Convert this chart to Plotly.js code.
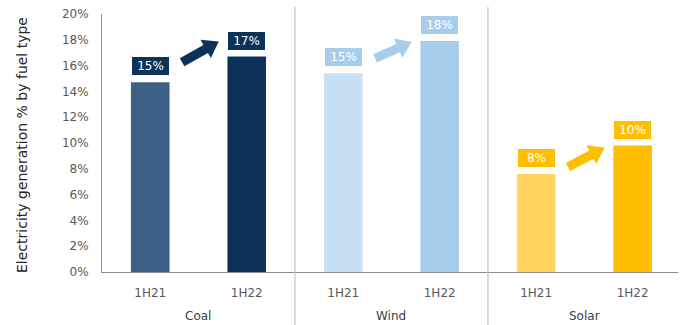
<!DOCTYPE html>
<html>
<head>
<meta charset="utf-8">
<script src="https://cdn.plot.ly/plotly-3.0.1.min.js"></script>
<style>
  html, body { margin: 0; padding: 0; background: #fff; }
  #chart { width: 685px; height: 325px; }
</style>
</head>
<body>
<div id="chart"></div>
<script>
// Electricity generation share by fuel type, first half of 2021 vs 2022
const fuels = ['Coal', 'Wind', 'Solar'];
const periods = ['1H21', '1H22'];
const coalShare = [14.7, 16.7];
const windShare = [15.4, 17.9];
const solarShare = [7.6, 9.8];

// styling
const palette = {
  Coal:  ['#3b6286', '#0c3259'],
  Wind:  ['#c9e0f4', '#a7cdec'],
  Solar: ['#ffd55f', '#ffbe00']
};
// arrow lift above each bar top, px: [tail above 1H21 bar, tip above 1H22 bar]
const arrowLift = { Coal: [20, 15], Wind: [15, -1], Solar: [7, -2] };

const W = 685, H = 325;
const M = { l: 102, r: 7, t: 14, b: 53 };
const xRange = [-0.5, 5.47];
const yRange = [0, 20];
const plotW = W - M.l - M.r, plotH = H - M.t - M.b;
const pxPerX = plotW / (xRange[1] - xRange[0]);
const pxPerY = plotH / (yRange[1] - yRange[0]);

const shares = { Coal: coalShare, Wind: windShare, Solar: solarShare };

const xs = [], ys = [], colors = [], tickText = [];
fuels.forEach((f, g) => {
  periods.forEach((p, k) => {
    xs.push(g * periods.length + k);
    ys.push(shares[f][k]);
    colors.push(palette[f][k]);
    tickText.push(p);
  });
});

const trace = {
  type: 'bar',
  x: xs,
  y: ys,
  marker: { color: colors, line: { width: 0 } },
  hoverinfo: 'skip'
};

const annotations = [];
const shapes = [];
const font = 'DejaVu Sans, Verdana, sans-serif';

// value boxes above bars
xs.forEach((x, i) => {
  const f = fuels[Math.floor(i / periods.length)];
  annotations.push({
    x: x, y: ys[i], xref: 'x', yref: 'y',
    text: Math.round(ys[i]) + '%',
    showarrow: false,
    yanchor: 'bottom', yshift: 6,
    width: 37, height: 18,
    bgcolor: palette[f][1],
    bordercolor: '#ffffff', borderwidth: 1, borderpad: 0,
    font: { family: font, size: 12, color: '#ffffff' }
  });
});

// group labels
fuels.forEach((f, g) => {
  annotations.push({
    x: g * periods.length + (periods.length - 1) / 2, xref: 'x',
    y: 0, yref: 'paper', yanchor: 'middle', yshift: -44,
    text: f, showarrow: false,
    font: { family: font, size: 12, color: '#404040' }
  });
});

// y axis title
annotations.push({
  x: 0, xref: 'paper', xshift: -80, xanchor: 'center',
  y: 0.5, yref: 'paper', yanchor: 'middle', yshift: -2,
  text: 'Electricity generation % by fuel type',
  textangle: -90, showarrow: false,
  font: { family: font, size: 14, color: '#262626' }
});

// group separators
for (let g = 1; g < fuels.length; g++) {
  const xb = g * periods.length - 0.5;
  shapes.push({
    type: 'line', xref: 'x', yref: 'paper',
    x0: xb, x1: xb, y0: -M.b / plotH, y1: 1 + 7 / plotH,
    line: { color: '#b3c5d7', width: 1.2 }
  });
}

// block arrows from the 1H21 box towards the 1H22 bar
function arrowPath(x0, y0, x1, y1) {
  // work in pixel space, then map back to data units
  const X0 = x0 * pxPerX, Y0 = -y0 * pxPerY;
  const X1 = x1 * pxPerX, Y1 = -y1 * pxPerY;
  const dx = X1 - X0, dy = Y1 - Y0;
  const len = Math.hypot(dx, dy);
  const ux = dx / len, uy = dy / len;
  const nx = -uy, ny = ux;
  const shaft = 4.6, head = 10.5, headLen = 15;
  const bx = X1 - ux * headLen, by = Y1 - uy * headLen;
  const pts = [
    [X0 + nx * shaft, Y0 + ny * shaft],
    [bx + nx * shaft, by + ny * shaft],
    [bx + nx * head, by + ny * head],
    [X1, Y1],
    [bx - nx * head, by - ny * head],
    [bx - nx * shaft, by - ny * shaft],
    [X0 - nx * shaft, Y0 - ny * shaft]
  ];
  return 'M' + pts.map(p => (p[0] / pxPerX) + ',' + (-p[1] / pxPerY)).join(' L') + ' Z';
}

fuels.forEach((f, g) => {
  const i0 = g * periods.length, i1 = i0 + 1;
  const v = shares[f];
  const tx = i0 + 0.33, ty = v[0] + arrowLift[f][0] / pxPerY;
  const hx = i1 - 0.29, hy = v[1] + arrowLift[f][1] / pxPerY;
  shapes.push({
    type: 'path', xref: 'x', yref: 'y',
    path: arrowPath(tx, ty, hx, hy),
    fillcolor: palette[f][1],
    line: { width: 0 }
  });
});

const layout = {
  width: W, height: H,
  margin: M,
  paper_bgcolor: '#ffffff',
  plot_bgcolor: '#ffffff',
  showlegend: false,
  bargap: 0.6,
  font: { family: font, size: 12, color: '#595959' },
  xaxis: {
    type: 'linear',
    range: xRange,
    tickvals: xs,
    ticktext: tickText,
    showgrid: false, zeroline: false,
    showline: true, linecolor: '#8c8c8c', linewidth: 1,
    ticks: '', ticklabelstandoff: 10,
    tickfont: { family: font, size: 12, color: '#595959' },
    fixedrange: true
  },
  yaxis: {
    range: yRange,
    dtick: 2, tick0: 0,
    ticksuffix: '%',
    showgrid: false, zeroline: false,
    showline: true, linecolor: '#8c8c8c', linewidth: 1,
    ticks: '', ticklabelstandoff: 10,
    tickfont: { family: font, size: 12, color: '#595959' },
    fixedrange: true
  },
  annotations: annotations,
  shapes: shapes
};

Plotly.newPlot('chart', [trace], layout, { displayModeBar: false, staticPlot: true });
</script>
</body>
</html>
